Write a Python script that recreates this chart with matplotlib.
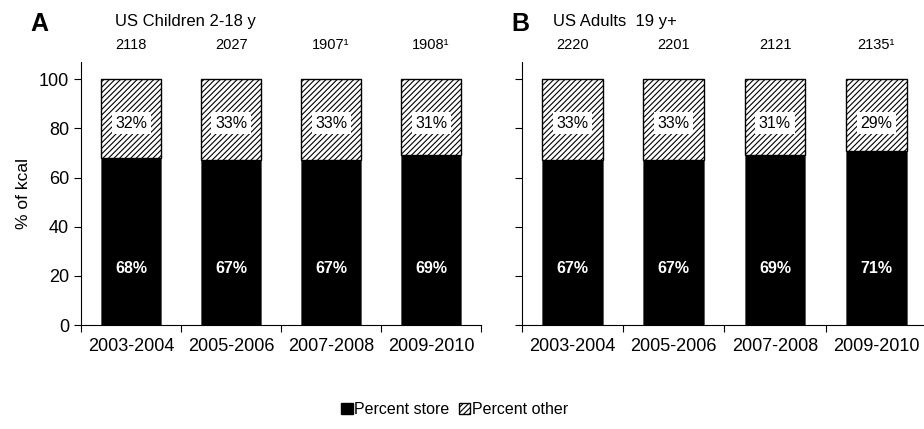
import matplotlib
matplotlib.use('Agg')
import matplotlib.pyplot as plt
from matplotlib.patches import Patch

plt.rcParams['font.family'] = ['Liberation Sans', 'DejaVu Sans']
plt.rcParams['hatch.linewidth'] = 0.8

## data
years = ['2003-2004', '2005-2006', '2007-2008', '2009-2010']
children_store = [68, 67, 67, 69]
children_other = [32, 33, 33, 31]
children_kcal = ['2118', '2027', '1907\u00b9', '1908\u00b9']
adults_store = [67, 67, 69, 71]
adults_other = [33, 33, 31, 29]
adults_kcal = ['2220', '2201', '2121', '2135\u00b9']


def draw_panel(ax, store, other, kcal, show_ylabels):
    '''
    Stacked bars: store share in black, other share hatched on top.
    '''
    x = list(range(len(years)))
    ax.bar(x, store, width=0.6, color='black', edgecolor='#555555', linewidth=0.6)
    ax.bar(x, other, bottom=store, width=0.6, color='white', edgecolor='black',
           hatch='//////', linewidth=1.0)
    for i in x:
        ax.text(i, 23, '%d%%' % store[i], ha='center', va='center',
                color='white', fontsize=11.5, fontweight='bold')
        ax.text(i, 82, '%d%%' % other[i], ha='center', va='center',
                color='black', fontsize=11.5,
                bbox=dict(facecolor='white', edgecolor='none', pad=2.5))
        ax.text(i, 114, kcal[i], ha='center', va='center', fontsize=10.5,
                clip_on=False)
    ax.set_xlim(-0.5, len(years) - 0.5)
    ax.set_ylim(0, 107)
    ax.set_yticks([0, 20, 40, 60, 80, 100])
    if not show_ylabels:
        ax.set_yticklabels([])
    # ticks between categories, labels centred under the bars
    ax.set_xticks([i - 0.5 for i in range(len(years) + 1)])
    ax.set_xticklabels([])
    ax.set_xticks(x, minor=True)
    ax.set_xticklabels(years, minor=True, fontsize=13)
    ax.tick_params(axis='x', which='minor', length=0, pad=9)
    ax.tick_params(axis='x', which='major', length=5)
    ax.tick_params(axis='y', length=5, labelsize=13)
    ax.spines['top'].set_visible(False)
    ax.spines['right'].set_visible(False)


fig = plt.figure(figsize=(9.24, 4.29), dpi=100)
ax1 = fig.add_axes([0.0877, 0.2424, 0.433, 0.613])
ax2 = fig.add_axes([0.565, 0.2424, 0.438, 0.613])
ax2.set_xlim(-0.5, 3.55)

draw_panel(ax1, children_store, children_other, children_kcal, True)
draw_panel(ax2, adults_store, adults_other, adults_kcal, False)
ax1.set_ylabel('% of kcal', fontsize=12.5, labelpad=6)

fig.text(0.033, 0.945, 'A', fontsize=18, fontweight='bold', va='center')
fig.text(0.124, 0.950, 'US Children 2-18 y', fontsize=12, va='center')
fig.text(0.553, 0.945, 'B', fontsize=18, fontweight='bold', va='center')
fig.text(0.598, 0.950, 'US Adults  19 y+', fontsize=12, va='center')

handles = [Patch(facecolor='black', edgecolor='black', label='Percent store'),
           Patch(facecolor='white', edgecolor='black', hatch='//////', label='Percent other')]
fig.legend(handles=handles, loc='center', bbox_to_anchor=(0.492, 0.045), ncol=2,
           frameon=False, fontsize=11.5, handlelength=0.7, handleheight=0.7,
           handletextpad=0.1, columnspacing=0.6)

plt.savefig('out.png', dpi=100)
